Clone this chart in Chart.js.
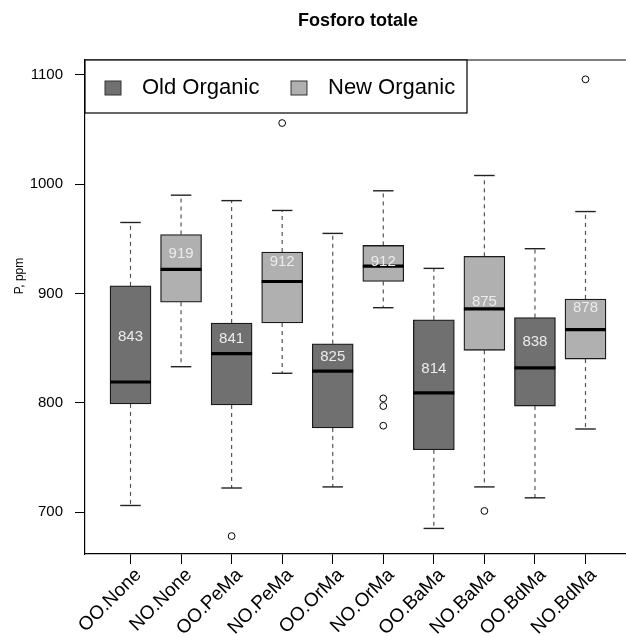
<!DOCTYPE html>
<html>
<head>
<meta charset="utf-8">
<script src="https://cdn.jsdelivr.net/npm/chart.js@4.4.1/dist/chart.umd.min.js"></script>
<style>
  html, body { margin: 0; padding: 0; background: #fff; overflow: hidden; }
</style>
</head>
<body>
<!-- the plot region runs a little past the right edge of the window, as in the original -->
<canvas id="boxChart" width="636" height="637"></canvas>
<script>
// values
const categories = ['OO.None', 'NO.None', 'OO.PeMa', 'NO.PeMa', 'OO.OrMa', 'NO.OrMa', 'OO.BaMa', 'NO.BaMa', 'OO.BdMa', 'NO.BdMa'];
const lowerWhisker = [706, 833, 722, 827, 723, 887, 685, 723, 713, 776];
const q1 = [799, 892, 798, 873, 777, 911, 757, 848, 797, 840];
const medians = [819, 922, 845, 911, 829, 925, 809, 886, 832, 867];
const q3 = [907, 954, 873, 938, 854, 944, 876, 934, 878, 895];
const upperWhisker = [965, 990, 985, 976, 955, 994, 923, 1008, 941, 975];
const means = [843, 919, 841, 912, 825, 912, 814, 875, 838, 878];
const outliers = [[], [], [678], [1056], [], [804, 797, 779], [], [701], [], [1096]];
const yTicks = [700, 800, 900, 1000, 1100];

const font = 'Liberation Sans, Arial, Helvetica, sans-serif';
const boxWidth = 41;

const oldIdx = categories.map((c, i) => i).filter(i => categories[i].startsWith('OO'));
const newIdx = categories.map((c, i) => i).filter(i => categories[i].startsWith('NO'));

function line(ctx, x1, y1, x2, y2) {
  ctx.beginPath();
  ctx.moveTo(x1, y1);
  ctx.lineTo(x2, y2);
  ctx.stroke();
}

// whiskers go under the boxes, medians and means on top
const whiskers = {
  id: 'whiskers',
  beforeDatasetsDraw(chart) {
    const {ctx, scales: {x, y}} = chart;
    ctx.save();
    categories.forEach((c, i) => {
      const px = x.getPixelForValue(i + 1);
      ctx.strokeStyle = '#555';
      ctx.lineWidth = 1.2;
      ctx.setLineDash([4, 4]);
      line(ctx, px, y.getPixelForValue(q3[i]), px, y.getPixelForValue(upperWhisker[i]));
      line(ctx, px, y.getPixelForValue(q1[i]), px, y.getPixelForValue(lowerWhisker[i]));
      ctx.setLineDash([]);
      ctx.strokeStyle = '#222';
      ctx.lineWidth = 1.4;
      const hw = boxWidth / 4;
      line(ctx, px - hw, y.getPixelForValue(upperWhisker[i]), px + hw, y.getPixelForValue(upperWhisker[i]));
      line(ctx, px - hw, y.getPixelForValue(lowerWhisker[i]), px + hw, y.getPixelForValue(lowerWhisker[i]));
    });
    ctx.restore();
  },
  afterDatasetsDraw(chart) {
    const {ctx, scales: {x, y}} = chart;
    ctx.save();
    categories.forEach((c, i) => {
      const px = x.getPixelForValue(i + 1);
      const ym = y.getPixelForValue(medians[i]);
      ctx.strokeStyle = '#000';
      ctx.lineWidth = 3.2;
      line(ctx, px - boxWidth / 2, ym, px + boxWidth / 2, ym);
      // mean written just above its value, kept inside the box
      const ly = Math.max(y.getPixelForValue(means[i]) - 19, y.getPixelForValue(q3[i]) + 9);
      ctx.fillStyle = '#ececec';
      ctx.font = '15px ' + font;
      ctx.textAlign = 'center';
      ctx.textBaseline = 'middle';
      ctx.fillText(String(means[i]), px, ly);
    });
    ctx.restore();
  }
};

const frameAndText = {
  id: 'frameAndText',
  afterDraw(chart) {
    const {ctx, chartArea: a} = chart;
    ctx.save();
    ctx.strokeStyle = '#000';
    ctx.lineWidth = 1.2;
    line(ctx, a.left, a.top, a.right, a.top);

    // title
    ctx.fillStyle = '#000';
    ctx.font = 'bold 18px ' + font;
    ctx.textAlign = 'center';
    ctx.textBaseline = 'middle';
    ctx.fillText('Fosforo totale', (a.left + a.right) / 2, 21);

    // y axis title
    ctx.save();
    ctx.translate(20, 276);
    ctx.rotate(-Math.PI / 2);
    ctx.font = '12px ' + font;
    ctx.fillText('P, ppm', 0, 0);
    ctx.restore();

    // legend box
    ctx.fillStyle = '#fff';
    ctx.fillRect(a.left, a.top, 382, 53);
    ctx.strokeRect(a.left, a.top, 382, 53);
    const items = [[20, 57], [206, 243]];
    chart.data.datasets.slice(0, 2).forEach((ds, k) => {
      ctx.fillStyle = ds.backgroundColor;
      ctx.strokeStyle = '#333';
      ctx.lineWidth = 1;
      ctx.fillRect(a.left + items[k][0], a.top + 21, 16, 14);
      ctx.strokeRect(a.left + items[k][0], a.top + 21, 16, 14);
      ctx.fillStyle = '#000';
      ctx.font = '22px ' + font;
      ctx.textAlign = 'left';
      ctx.textBaseline = 'middle';
      ctx.fillText(ds.label, a.left + items[k][1], a.top + 28);
    });
    ctx.restore();
  }
};

new Chart(document.getElementById('boxChart'), {
  type: 'bar',
  data: {
    datasets: [{
      label: 'Old Organic',
      data: oldIdx.map(i => ({x: i + 1, y: [q1[i], q3[i]]})),
      backgroundColor: '#707070',
      borderColor: '#1a1a1a',
      borderWidth: 1.3,
      borderSkipped: false,
      barThickness: boxWidth,
      grouped: false
    }, {
      label: 'New Organic',
      data: newIdx.map(i => ({x: i + 1, y: [q1[i], q3[i]]})),
      backgroundColor: '#b0b0b0',
      borderColor: '#1a1a1a',
      borderWidth: 1.3,
      borderSkipped: false,
      barThickness: boxWidth,
      grouped: false
    }, {
      type: 'scatter',
      label: 'outliers',
      data: outliers.flatMap((arr, i) => arr.map(v => ({x: i + 1, y: v}))),
      pointRadius: 3.4,
      pointBorderColor: '#000',
      pointBackgroundColor: 'rgba(0,0,0,0)',
      pointBorderWidth: 1
    }]
  },
  options: {
    responsive: false,
    animation: false,
    layout: {padding: {top: 60, left: 0, right: 0, bottom: 0}},
    plugins: {
      legend: {display: false},
      tooltip: {enabled: false}
    },
    scales: {
      x: {
        type: 'linear',
        min: 0.1,
        max: 10.9,
        offset: false,
        afterBuildTicks: s => { s.ticks = categories.map((c, i) => ({value: i + 1})); },
        afterFit: s => { s.height = 83; s.paddingLeft = 0; s.paddingRight = 0; },
        grid: {offset: false, drawOnChartArea: false, drawTicks: true, tickLength: 10, color: '#000', lineWidth: 1},
        border: {display: true, color: '#000', width: 1.2},
        ticks: {
          autoSkip: false,
          minRotation: 45,
          maxRotation: 45,
          padding: 0,
          labelOffset: 8,
          color: '#000',
          font: {family: font, size: 19},
          callback: v => categories[v - 1]
        }
      },
      y: {
        min: 661.6,
        max: 1113.7,
        afterBuildTicks: s => { s.ticks = yTicks.map(v => ({value: v})); },
        afterFit: s => { s.width = 85; },
        grid: {drawOnChartArea: false, drawTicks: true, tickLength: 10, color: '#000'},
        border: {display: true, color: '#000', width: 1.2},
        ticks: {
          padding: 12,
          color: '#000',
          font: {family: font, size: 15},
          callback: v => String(v)
        }
      }
    }
  },
  plugins: [whiskers, frameAndText]
});
</script>
</body>
</html>
